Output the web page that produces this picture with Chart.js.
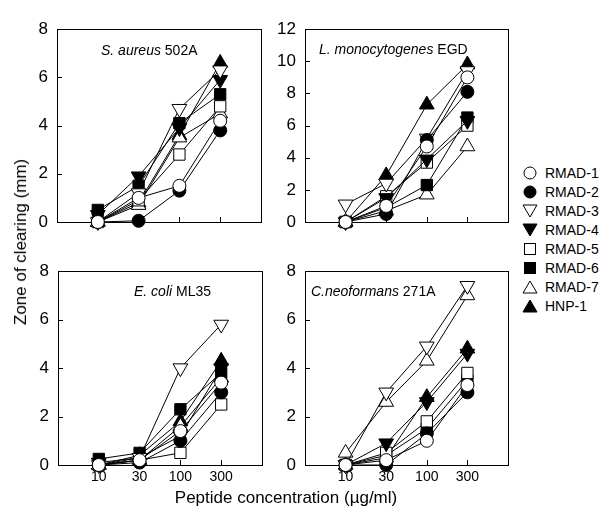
<!DOCTYPE html>
<html>
<head>
<meta charset="utf-8">
<script src="https://cdn.jsdelivr.net/npm/chart.js@4"></script>
<style>
  body { margin: 0; background: #fff; font-family: "Liberation Sans", Arial, sans-serif; color: #000; }
  #fig { position: relative; width: 601px; height: 508px; overflow: hidden; }
  .panel { position: absolute; }
  .ytitle { position: absolute; left: 21px; top: 242px; font-size: 17px; white-space: nowrap;
            transform: translate(-50%, -50%) rotate(-90deg); }
  .xtitle { position: absolute; left: 286px; top: 498px; font-size: 17px; white-space: nowrap;
            transform: translate(-50%, -50%); }
  .leg { position: absolute; left: 522px; font-size: 14px; white-space: nowrap; height: 18px; line-height: 18px; }
  .leg svg { position: absolute; left: 0; top: 1px; }
  .leg span { position: absolute; left: 23px; top: 0; }
</style>
</head>
<body>
<div id="fig">
  <div class="panel" id="p1"><canvas id="c1"></canvas></div>
  <div class="panel" id="p2"><canvas id="c2"></canvas></div>
  <div class="panel" id="p3"><canvas id="c3"></canvas></div>
  <div class="panel" id="p4"><canvas id="c4"></canvas></div>
  <div class="ytitle">Zone of clearing (mm)</div>
  <div class="xtitle">Peptide concentration (µg/ml)</div>
  <div id="legend"></div>
</div>
<script>
// peptide concentrations (µg/ml), shown as evenly spaced categories
const concLabels = ["10", "30", "100", "300"];
const seriesNames = ["RMAD-1", "RMAD-2", "RMAD-3", "RMAD-4", "RMAD-5", "RMAD-6", "RMAD-7", "HNP-1"];

// zone of clearing (mm), one row per series in seriesNames order
const sAureus = [
  [0, 1.0, 1.5, 4.2],
  [0, 0.05, 1.3, 3.8],
  [0, 1.2, 4.7, 6.3],
  [0.3, 1.9, 3.9, 5.9],
  [0, 0.9, 2.8, 4.8],
  [0.5, 1.5, 4.1, 5.3],
  [0, 0.7, 3.5, 4.5],
  [0, 0.8, 3.6, 6.6]
];
const lMono = [
  [0, 1.0, 4.7, 9.0],
  [0, 0.5, 5.1, 8.1],
  [1.1, 2.4, 5.2, 9.4],
  [0, 1.5, 3.9, 6.3],
  [0, 1.6, 3.7, 6.0],
  [0, 0.9, 2.3, 6.5],
  [0, 0.7, 1.7, 4.7],
  [0, 2.9, 7.3, 9.8]
];
const eColi = [
  [0, 0.2, 1.4, 3.4],
  [0, 0.1, 1.0, 3.0],
  [0, 0.3, 4.0, 5.8],
  [0.1, 0.3, 1.2, 4.0],
  [0, 0.2, 0.5, 2.5],
  [0.25, 0.5, 2.3, 3.8],
  [0, 0.2, 1.6, 3.6],
  [0, 0.4, 1.8, 4.3]
];
const cNeo = [
  [0, 0.2, 1.0, 3.3],
  [0, 0, 1.3, 3.0],
  [0, 3.0, 4.9, 7.4],
  [0, 0.9, 2.6, 4.6],
  [0, 0.5, 1.8, 3.8],
  [0, 0.4, 1.5, 3.5],
  [0.5, 2.6, 4.3, 7.0],
  [0, 0.3, 2.8, 4.8]
];

const yTicks8 = [0, 2, 4, 6, 8];
const yTicks12 = [0, 2, 4, 6, 8, 10, 12];

// marker looks
const shapes = ["circle", "circle", "triangle", "triangle", "rect", "rect", "triangle", "triangle"];
const rotations = [0, 0, 180, 180, 0, 0, 0, 0];
const filled = [false, true, false, true, false, true, false, true];
const radii = [6.5, 6.5, 8.5, 8.5, 8, 8, 8.5, 8.5];

const FONT = "'Liberation Sans', Arial, sans-serif";

// frame + inward tick marks + panel title
const framePlugin = {
  id: "frame",
  beforeDatasetsDraw(chart, args, opts) {
    const a = chart.chartArea, ctx = chart.ctx;
    const xs = chart.scales.x, ys = chart.scales.y;
    ctx.save();
    ctx.strokeStyle = "#000";
    ctx.lineWidth = 1;
    ctx.strokeRect(Math.round(a.left) + 0.5, Math.round(a.top) + 0.5,
      Math.round(a.right - a.left), Math.round(a.bottom - a.top));
    ctx.beginPath();
    for (let i = 0; i < concLabels.length; i++) {
      const px = Math.round(xs.getPixelForValue(i)) + 0.5;
      ctx.moveTo(px, a.bottom);
      ctx.lineTo(px, a.bottom - 5);
    }
    for (const v of opts.yTicks) {
      if (v === 0 || v === ys.max) continue;
      const py = Math.round(ys.getPixelForValue(v)) + 0.5;
      ctx.moveTo(a.left, py);
      ctx.lineTo(a.left + 5, py);
    }
    ctx.stroke();
    // title: italic organism + plain strain
    ctx.fillStyle = "#000";
    ctx.textBaseline = "middle";
    ctx.font = "italic 14px " + FONT;
    const x0 = a.left + opts.dx, y0 = a.top + opts.dy;
    ctx.fillText(opts.italic, x0, y0);
    const w = ctx.measureText(opts.italic).width;
    ctx.font = "14px " + FONT;
    ctx.fillText(opts.plain, x0 + w, y0);
    ctx.restore();
  }
};

const YW = 45, XH = 28, PT = 10, PR = 10;

function makePanel(id, left, top, w, h, rows, yMax, yTicks, showX, title) {
  const holder = document.getElementById("p" + id);
  const cw = w + YW + PR, ch = h + PT + XH;
  holder.style.left = (left - YW) + "px";
  holder.style.top = (top - PT) + "px";
  const cv = document.getElementById("c" + id);
  cv.width = cw; cv.height = ch;
  cv.style.width = cw + "px"; cv.style.height = ch + "px";

  // reversed so that HNP-1 ends up underneath and RMAD-1.. on top, as in the print
  const datasets = rows.map((vals, s) => ({
    label: seriesNames[s],
    data: vals.map((v, i) => ({ x: i, y: v })),
    borderColor: "#000",
    borderWidth: 1,
    pointStyle: shapes[s],
    rotation: rotations[s],
    pointRadius: radii[s],
    pointBackgroundColor: filled[s] ? "#000" : "#fff",
    pointBorderColor: "#000",
    pointBorderWidth: 1,
    fill: false,
    tension: 0,
    clip: false
  }));

  new Chart(cv, {
    type: "line",
    data: { datasets: datasets },
    options: {
      responsive: false,
      animation: false,
      events: [],
      layout: { padding: { top: PT, right: PR, left: 0, bottom: 0 } },
      plugins: {
        legend: { display: false },
        tooltip: { enabled: false },
        frame: { yTicks: yTicks, italic: title[0], plain: title[1], dx: title[2], dy: title[3] }
      },
      scales: {
        x: {
          type: "linear",
          min: -1,
          max: 4,
          afterBuildTicks: (sc) => { sc.ticks = concLabels.map((t, i) => ({ value: i })); },
          afterFit: (sc) => { sc.height = XH; },
          grid: { display: false, drawTicks: false },
          border: { display: false },
          ticks: {
            display: showX,
            padding: 4,
            color: "#000",
            font: { family: FONT, size: 14 },
            maxRotation: 0,
            callback: (v) => concLabels[v]
          }
        },
        y: {
          type: "linear",
          min: 0,
          max: yMax,
          afterBuildTicks: (sc) => { sc.ticks = yTicks.map(v => ({ value: v })); },
          afterFit: (sc) => { sc.width = YW; },
          grid: { display: false, drawTicks: false },
          border: { display: false },
          ticks: {
            padding: 9,
            color: "#000",
            font: { family: FONT, size: 17 }
          }
        }
      }
    },
    plugins: [framePlugin]
  });
}

makePanel(1, 57, 20, 204, 202, sAureus, 8, yTicks8, false, ["S. aureus", " 502A", 44, 22]);
makePanel(2, 305, 20, 203, 202, lMono, 12, yTicks12, false, ["L. monocytogenes", " EGD", 14, 21]);
makePanel(3, 58, 262, 204, 203, eColi, 8, yTicks8, true, ["E. coli", " ML35", 76, 21]);
makePanel(4, 305, 262, 203, 203, cNeo, 8, yTicks8, true, ["C.neoformans", " 271A", 6, 21]);

// legend with drawn markers
const legY = [173, 192, 211, 230, 249, 268, 287, 306];
const legendBox = document.getElementById("legend");
seriesNames.forEach((name, s) => {
  const fill = filled[s] ? "#000" : "#fff";
  let shape;
  if (shapes[s] === "circle") shape = `<circle cx="8" cy="8" r="6" fill="${fill}" stroke="#000"/>`;
  else if (shapes[s] === "rect") shape = `<rect x="2.5" y="2.5" width="11" height="11" fill="${fill}" stroke="#000"/>`;
  else if (rotations[s] === 180) shape = `<polygon points="1,2 15,2 8,14" fill="${fill}" stroke="#000"/>`;
  else shape = `<polygon points="1,14 15,14 8,2" fill="${fill}" stroke="#000"/>`;
  const d = document.createElement("div");
  d.className = "leg";
  d.style.top = (legY[s] - 9) + "px";
  d.innerHTML = `<svg width="16" height="16">${shape}</svg><span>${name}</span>`;
  legendBox.appendChild(d);
});
</script>
</body>
</html>
